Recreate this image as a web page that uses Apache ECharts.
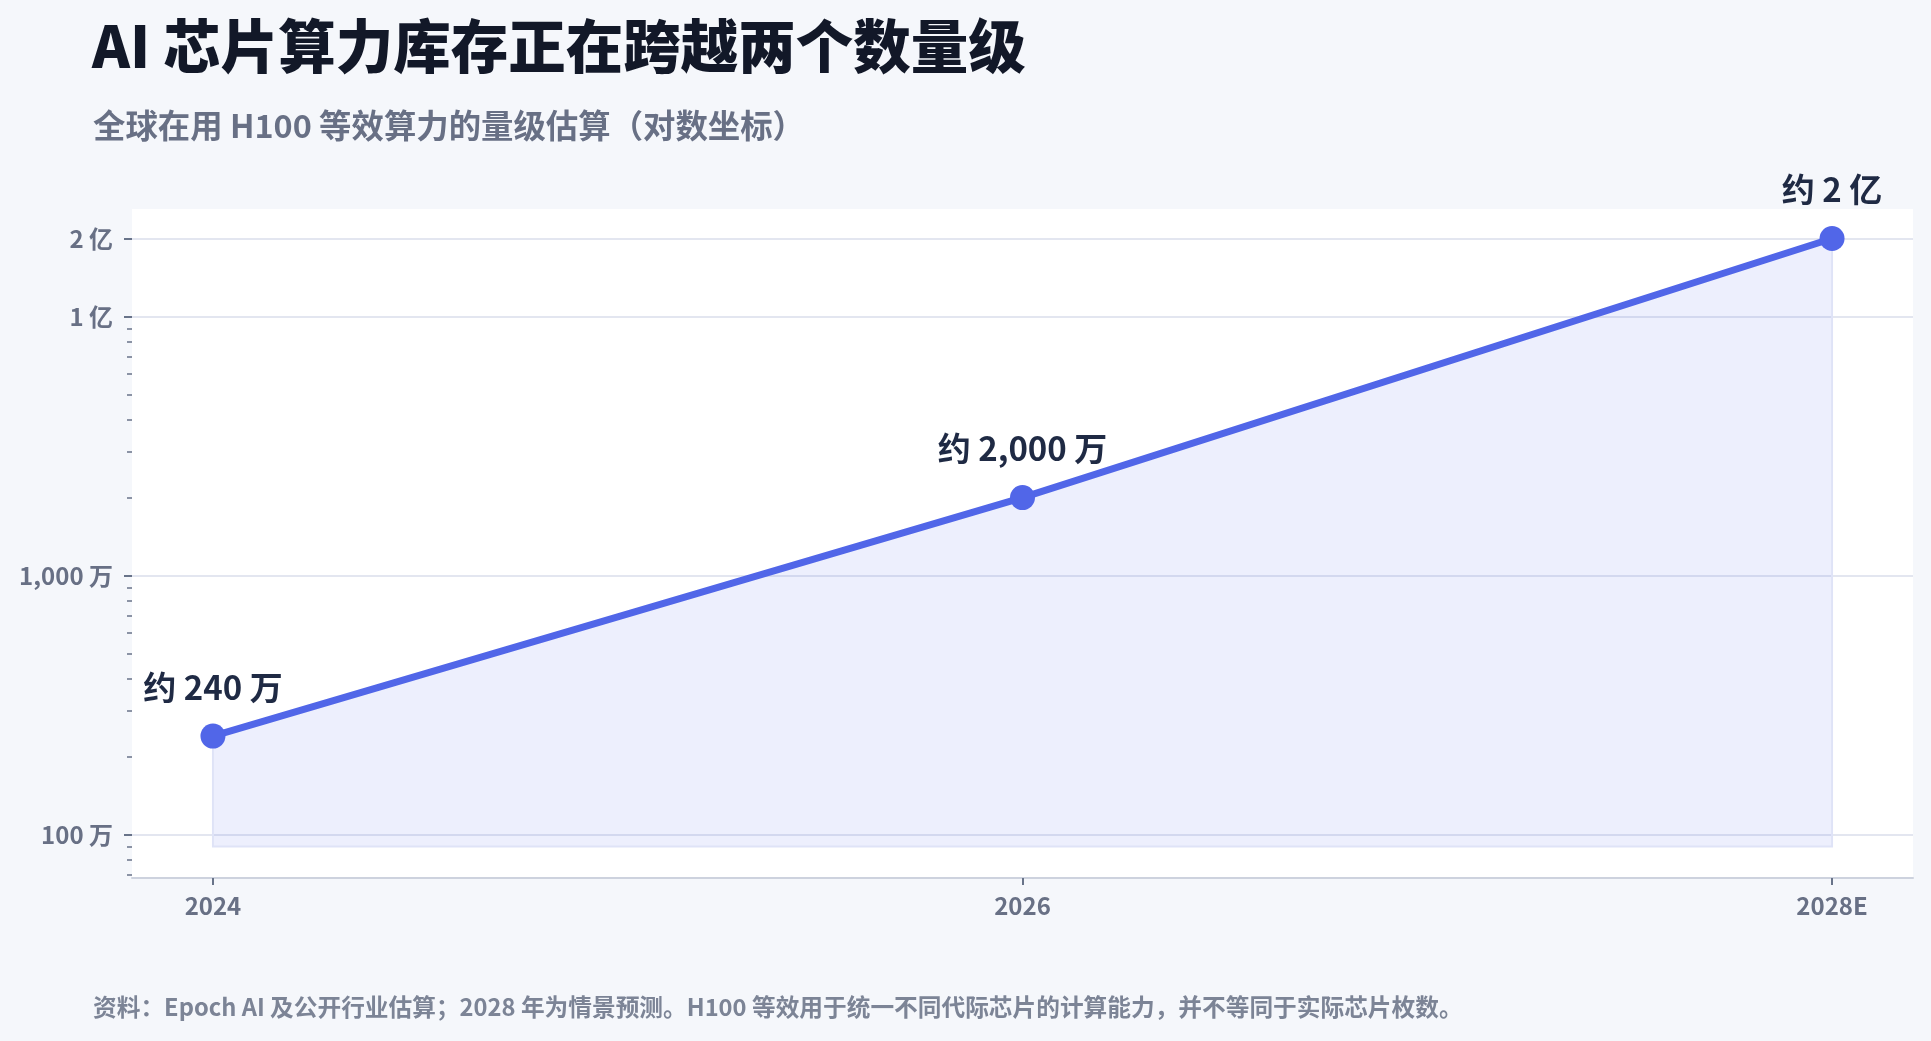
<!DOCTYPE html>
<html>
<head>
<meta charset="utf-8">
<title>AI 芯片算力库存</title>
<script src="https://cdn.jsdelivr.net/npm/echarts@6/dist/echarts.min.js"></script>
<style>
  html, body { margin: 0; padding: 0; background: #f5f7fb; }
  #main { width: 1931px; height: 1041px; }
</style>
</head>
<body>
<div id="main"></div>
<script>
// 数据
const years = [2024, 2026, 2028];
const yearLabels = ['2024', '2026', '2028E'];
const h100Equiv = [2400000, 20000000, 200000000];
const pointLabels = ['约 240 万', '约 2,000 万', '约 2 亿'];

// 坐标轴刻度
const yTickValues = [1000000, 10000000, 100000000, 200000000];
const yTickLabels = ['100 万', '1,000 万', '1 亿', '2 亿'];
const yMinorTicks = [
  700000, 800000, 900000,
  2000000, 3000000, 4000000, 5000000, 6000000, 7000000, 8000000, 9000000,
  20000000, 30000000, 40000000, 50000000, 60000000, 70000000, 80000000, 90000000
];
const areaBase = 900000;

const FONT = '"Noto Sans CJK SC", "Noto Sans", sans-serif';
const chart = echarts.init(document.getElementById('main'));

const points = years.map((y, i) => [y, h100Equiv[i]]);

// 面积填充（带浅色描边）
function renderArea(params, api) {
  if (params.dataIndex !== 0) return;
  const pts = points.map(p => api.coord(p));
  pts.push(api.coord([years[years.length - 1], areaBase]));
  pts.push(api.coord([years[0], areaBase]));
  return {
    type: 'polygon',
    shape: { points: pts },
    style: { fill: 'rgba(81,102,232,0.1)', stroke: '#dfe3f7', lineWidth: 2 }
  };
}

const option = {
  animation: false,
  backgroundColor: '#f5f7fb',
  textStyle: { fontFamily: FONT },
  title: [
    {
      text: 'AI 芯片算力库存正在跨越两个数量级',
      left: 87, top: 12,
      textStyle: { fontSize: 57.5, fontWeight: 900, color: '#121828', fontFamily: FONT }
    },
    {
      text: '全球在用 H100 等效算力的量级估算（对数坐标）',
      left: 88, top: 104,
      textStyle: { fontSize: 32.4, fontWeight: 'bold', color: '#687085', fontFamily: FONT }
    },
    {
      text: '资料：Epoch AI 及公开行业估算；2028 年为情景预测。H100 等效用于统一不同代际芯片的计算能力，并不等同于实际芯片枚数。',
      left: 88, top: 990,
      textStyle: { fontSize: 23.7, fontWeight: 'bold', color: '#7c8496', fontFamily: FONT }
    }
  ],
  grid: {
    left: 132, right: 18, top: 209, bottom: 163,
    show: true, backgroundColor: '#ffffff', borderWidth: 0
  },
  xAxis: {
    type: 'value',
    min: 2023.8,
    max: 2028.2,
    axisLine: { show: true, lineStyle: { color: '#cdd2de', width: 2 } },
    axisTick: { show: true, customValues: years, length: 7, lineStyle: { color: '#687389', width: 2 } },
    axisLabel: {
      customValues: years,
      formatter: v => yearLabels[years.indexOf(Math.round(v))],
      margin: 16,
      fontSize: 24, fontWeight: 'bold', color: '#687085', fontFamily: FONT
    },
    splitLine: { show: false }
  },
  yAxis: [
    {
      type: 'log',
      logBase: 10,
      min: 680000,
      max: 260000000,
      axisLine: { show: false },
      axisTick: { show: true, customValues: yTickValues, length: 8, lineStyle: { color: '#687389', width: 2 } },
      axisLabel: {
        customValues: yTickValues,
        formatter: v => {
          const i = yTickValues.findIndex(t => Math.abs(t - v) / t < 1e-6);
          return i >= 0 ? yTickLabels[i] : '';
        },
        margin: 19,
        fontSize: 24, fontWeight: 'bold', color: '#687085', fontFamily: FONT
      },
      splitLine: { show: true, lineStyle: { color: '#e3e6f0', width: 2 } }
    },
    {
      type: 'log',
      logBase: 10,
      min: 680000,
      max: 260000000,
      position: 'left',
      axisLine: { show: false },
      axisTick: { show: true, customValues: yMinorTicks, length: 5, lineStyle: { color: '#687389', width: 1.5 } },
      axisLabel: { show: false },
      splitLine: { show: false }
    }
  ],
  series: [
    {
      type: 'custom',
      renderItem: renderArea,
      data: points,
      z: 1,
      silent: true
    },
    {
      type: 'line',
      data: points,
      z: 3,
      lineStyle: { color: '#5166e8', width: 7 },
      itemStyle: { color: '#5166e8' },
      symbol: 'circle',
      symbolSize: 25,
      showSymbol: true,
      label: {
        show: true,
        position: 'top',
        distance: 20,
        formatter: p => pointLabels[p.dataIndex],
        fontSize: 33, fontWeight: 'bold', color: '#1f2a44', fontFamily: FONT
      }
    }
  ]
};

chart.setOption(option);
</script>
</body>
</html>
